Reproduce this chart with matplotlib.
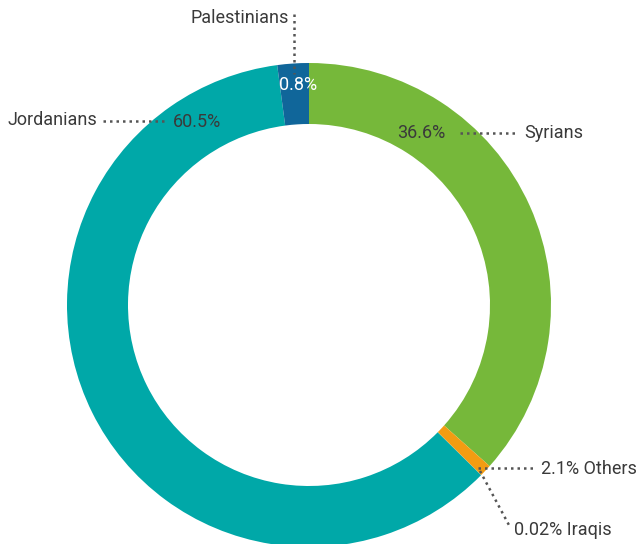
import matplotlib.pyplot as plt

# slice sizes as drawn (clockwise from top) and the labels shown on the chart
groups = ['Syrians', 'Others', 'Iraqis', 'Jordanians', 'Palestinians']
sizes = [36.6, 0.8, 0.02, 60.5, 2.1]
pct_text = ['36.6%', '2.1%', '0.02%', '60.5%', '0.8%']
colors = ['#76b83a', '#f39c12', '#f39c12', '#00a8a8', '#10669a']

W, H = 640, 544
TXT = '#3a3a3a'
LINE = '#555555'
plt.rcParams['font.family'] = ['Roboto', 'DejaVu Sans']

fig = plt.figure(figsize=(W / 100, H / 100), dpi=100)
ax = fig.add_axes([0, 0, 1, 1])


def py(y):
    # convert a top-down pixel row into axis coordinates
    return H - y


ax.pie(sizes, colors=colors, startangle=90, counterclock=False,
       radius=242, center=(309, py(305)), frame=True,
       wedgeprops=dict(width=61, linewidth=0))
ax.set_xlim(0, W)
ax.set_ylim(0, H)
ax.set_aspect('equal')
ax.axis('off')

fs = 13
kw = dict(fontsize=fs, fontweight='normal', color=TXT, va='center')
dots = dict(color=LINE, lw=1.8, linestyle=(0, (1, 1.6)))

# Syrians
ax.text(421, py(133), pct_text[0], ha='center', **kw)
ax.plot([460, 518], [py(133), py(133)], **dots)
ax.text(524, py(133), groups[0], ha='left', **kw)

# Others
ax.plot([478, 536], [py(468), py(468)], **dots)
ax.text(541, py(469), pct_text[1] + ' ' + groups[1], ha='left', **kw)

# Iraqis
ax.plot([480, 510], [py(471), py(527)], **dots)
ax.text(514, py(530), pct_text[2] + ' ' + groups[2], ha='left', **kw)

# Jordanians
ax.text(7, py(120), groups[3], ha='left', **kw)
ax.plot([103, 164], [py(121), py(121)], **dots)
ax.text(197, py(122), pct_text[3], ha='center', **kw)

# Palestinians
ax.text(289, py(18), groups[4], ha='right', **kw)
ax.plot([294, 294], [py(14), py(74)], **dots)
ax.text(298, py(85), pct_text[4], ha='center', fontsize=fs,
        fontweight='normal', color='white', va='center')

fig.savefig('out.png', dpi=100)
